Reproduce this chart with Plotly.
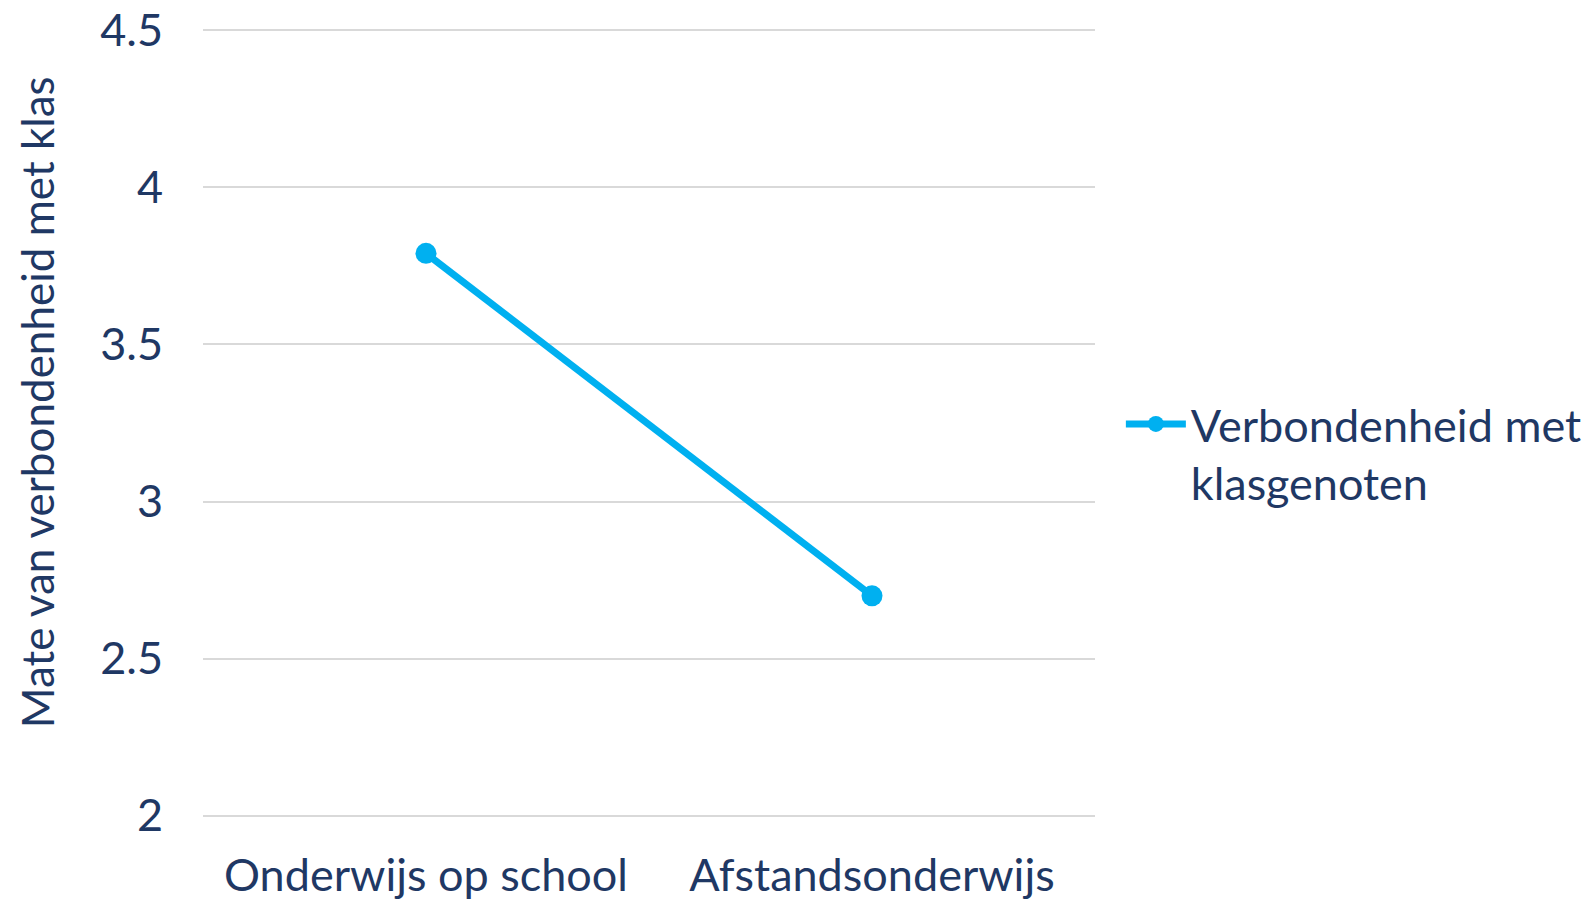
import plotly.graph_objects as go

categories = ["Onderwijs op school", "Afstandsonderwijs"]
values = [3.79, 2.70]
series_name = "Verbondenheid met<br>klasgenoten"
y_title = "Mate van verbondenheid met klas"
y_ticks = [2, 2.5, 3, 3.5, 4, 4.5]
y_ticktext = ["2", "2.5", "3", "3.5", "4", "4.5"]

TEXT = "#1F3864"
LINE = "#00B0F0"
FONT = "Lato"
FS = 45

fig = go.Figure()
fig.add_trace(go.Scatter(
    x=categories, y=values, name=series_name, mode="lines+markers",
    line=dict(color=LINE, width=7),
    marker=dict(color=LINE, size=21),
))

fig.update_layout(
    width=1591, height=903,
    margin=dict(l=195, r=498, t=16, b=89),
    paper_bgcolor="white", plot_bgcolor="white",
    font=dict(family=FONT, color=TEXT, size=FS),
    showlegend=True,
    legend=dict(x=1.029, xanchor="left", y=0.5436, yanchor="top", valign="top",
                font=dict(size=FS, color=TEXT), itemwidth=60,
                bgcolor="rgba(0,0,0,0)", tracegroupgap=0),
    xaxis=dict(showgrid=False, showline=False, zeroline=False, automargin=False,
               tickfont=dict(size=FS, color=TEXT), ticklabelstandoff=23,
               ticklabeloverflow="allow", range=[-0.5, 1.5]),
    yaxis=dict(range=[1.98, 4.52], tickvals=y_ticks, ticktext=y_ticktext,
               showgrid=True, gridcolor="#D9D9D9", gridwidth=2, automargin=False,
               zeroline=False, showline=False, ticklabeloverflow="allow",
               tickfont=dict(size=FS, color=TEXT), ticklabelstandoff=39),
    annotations=[dict(text=y_title, textangle=-90, xref="paper", yref="paper",
                      x=-0.1866, y=0.5255, xanchor="center", yanchor="middle",
                      showarrow=False, font=dict(size=FS - 1, color=TEXT))],
)

fig.write_html("out.html")
